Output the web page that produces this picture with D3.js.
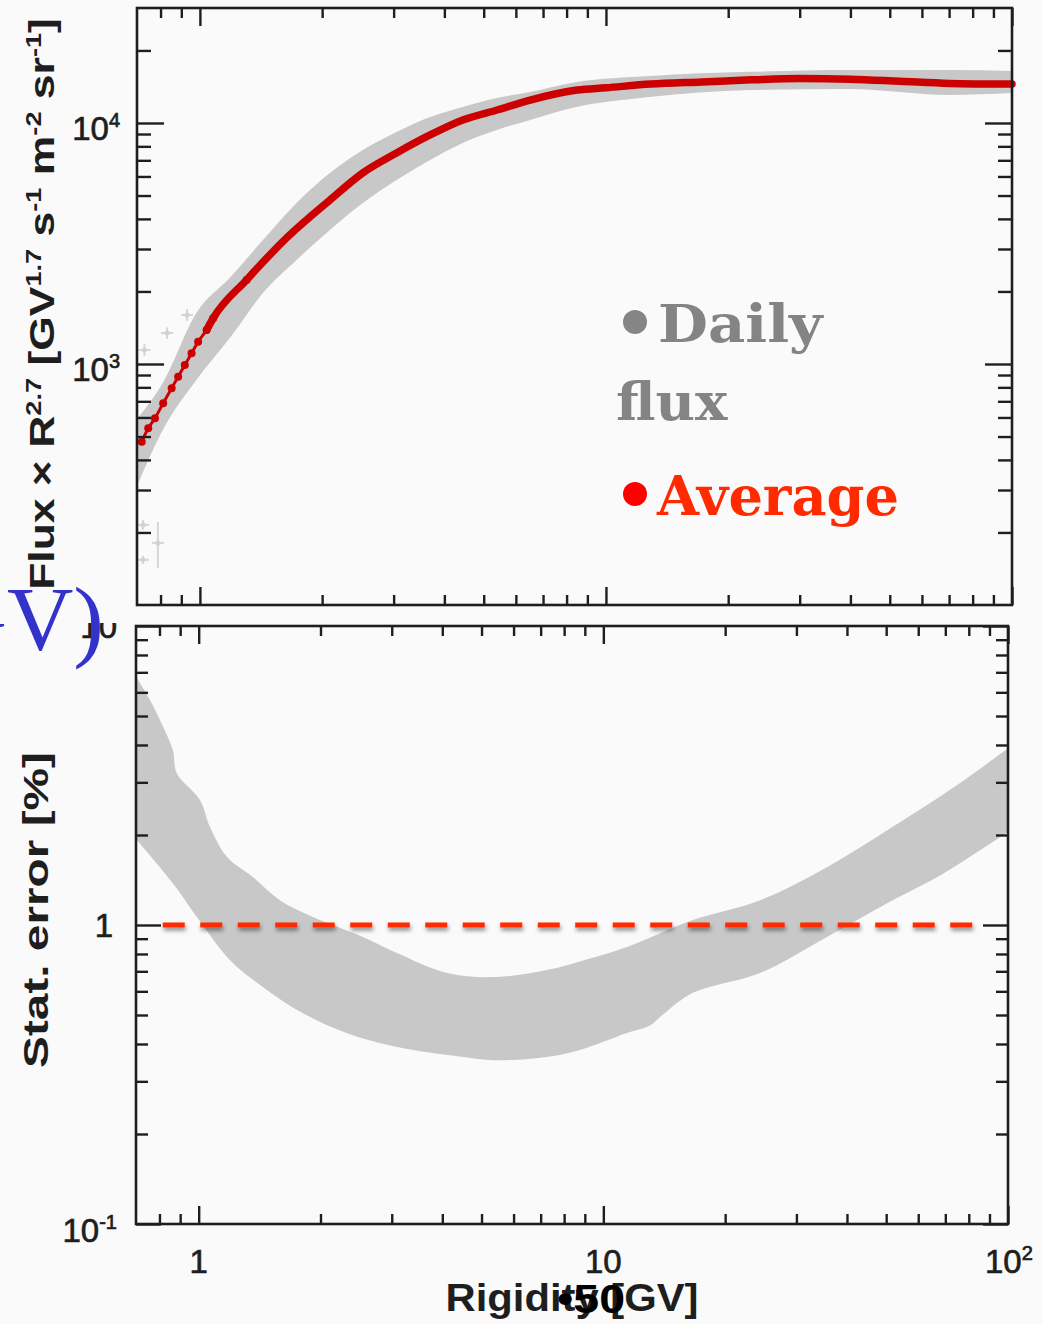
<!DOCTYPE html>
<html><head><meta charset="utf-8">
<script src="https://cdn.jsdelivr.net/npm/d3@7"></script>
<style>html,body{margin:0;padding:0;background:#fafafa;} svg{display:block;}</style>
</head><body><svg id="c" width="1042" height="1324"></svg>
<script>
// ---------------- DATA ----------------
// Top panel: daily flux band (gray) and average (red), Flux x R^2.7
const bandR      = [0.705, 0.81, 0.98, 1.19, 1.43, 1.73, 2.09, 2.52, 3.05, 3.69, 4.44, 5.38, 6.51, 8.46, 12.8, 22.6, 39.8, 70, 100];
const bandUpper  = [600, 834, 1629, 2296, 3270, 4656, 6200, 7727, 9180, 10590, 11650, 12700, 13450, 14780, 15670, 16300, 16600, 16600, 16440];
const bandLower  = [320, 532, 859, 1294, 1971, 2702, 3600, 4656, 5801, 7022, 8260, 9354, 10290, 11650, 12820, 13700, 13840, 13070, 13320];
const avgR    = [0.719,0.746,0.775,0.812,0.852,0.884,0.918,0.954,0.990,1.039,1.078,1.303,1.635,2.09,2.52,3.05,3.69,4.44,5.39,6.51,8.49,10.0,12.9,17.2,22.8,30.0,40.0,53.0,70.0,100];
const avgFlux = [476,541,596,687,794,886,990,1107,1238,1384,1548,2233,3335,4790,6210,7510,8918,10290,11320,12450,13700,14000,14500,14800,15100,15300,15200,14900,14600,14500];
// outlying daily points at low rigidity
const outR    = [0.73, 0.83, 0.93, 0.788, 0.724, 0.724];
const outFlux = [1143, 1345, 1596, 181, 215, 154];
const outLo   = [1080, 1270, 1510, 142, 205, 148];
const outHi   = [1210, 1420, 1690, 221, 225, 160];

// Bottom panel: statistical error band [%]
const errUpR = [0.704,0.758,0.802,0.863,0.883,1.007,1.066,1.174,1.36,1.587,1.915,2.546,3.09,4.11,5.46,7.26,8.75,11.44,16.65,24.4,35.7,51.9,76.0,100];
const errUp  = [6.70,5.66,4.85,3.85,3.22,2.62,2.13,1.69,1.447,1.21,1.064,0.912,0.806,0.691,0.670,0.707,0.755,0.844,1.039,1.21,1.56,2.13,2.98,3.9];
const errLoR = [0.704,0.863,0.99,1.194,1.44,1.75,2.32,3.09,4.5,5.46,7.26,8.75,11.44,13.0,14.0,16.65,24.4,35.7,51.9,69.5,100];
const errLo  = [1.92,1.38,1.064,0.764,0.620,0.520,0.435,0.391,0.362,0.353,0.362,0.382,0.435,0.46,0.50,0.593,0.691,0.912,1.21,1.49,2.05];
const refLineR = [0.815, 88];
const refLineV = [1, 1];

// Axis ticks and labels
const xMajor = [1, 10, 100];
const xMinor = [0.8,0.9,2,3,4,5,6,7,8,9,20,30,40,50,60,70,80,90];
const xLabels = [["1",""],["10",""],["10","2"]];
const topYMajor = [1000, 10000];
const topYMinor = [200,300,400,500,600,700,800,900,2000,3000,4000,5000,6000,7000,8000,9000,20000];
const topYLabels = [["10","3"],["10","4"]];
const botYMajor = [0.1, 1, 10];
const botYMinor = [0.2,0.3,0.4,0.5,0.6,0.7,0.8,0.9,2,3,4,5,6,7,8,9];
const botYLabels = [["10","-1"],["1",""],["10",""]];

// ---------------- DRAW ----------------
const svg = d3.select("#c");
svg.append("rect").attr("width",1042).attr("height",1324).attr("fill","#fafafa");
const defs = svg.append("defs");
const f = defs.append("filter").attr("id","sh").attr("filterUnits","userSpaceOnUse")
  .attr("x",0).attr("y",880).attr("width",1042).attr("height",100);
f.append("feDropShadow").attr("dx",1).attr("dy",3).attr("stdDeviation",2).attr("flood-color","#000").attr("flood-opacity",0.45);
defs.append("clipPath").attr("id","clipB").append("rect").attr("x",136).attr("y",626).attr("width",872).attr("height",598);
defs.append("clipPath").attr("id","clipT").append("rect").attr("x",137).attr("y",8).attr("width",875).attr("height",597);

const AX = "Liberation Sans, Arial, Helvetica, sans-serif";
const INK = "#1e1e1e";

function ticks(g, scale, orient, pos, vals, size) {
  const ax = orient==="bottom"? d3.axisBottom(scale): orient==="top"? d3.axisTop(scale): orient==="left"? d3.axisLeft(scale): d3.axisRight(scale);
  ax.tickValues(vals).tickSize(-size).tickFormat("");
  const gg = g.append("g").attr("transform", (orient==="bottom"||orient==="top") ? `translate(0,${pos})` : `translate(${pos},0)`).call(ax);
  gg.select(".domain").remove();
  gg.selectAll("line").attr("stroke",INK).attr("stroke-width",2.4);
}
function supLabel(g, x, y, anchor, main, sup, size) {
  const t = g.append("text").attr("x",x).attr("y",y).attr("text-anchor",anchor)
    .attr("font-family",AX).attr("font-size",size).attr("fill",INK)
    .attr("stroke",INK).attr("stroke-width",0.7);
  t.append("tspan").text(main);
  if (sup) t.append("tspan").attr("font-size",20).attr("dy",-13).text(sup);
  return t;
}
function fitText(t, tx, ty, rot, w) {
  const bw = t.node().getBBox().width;
  t.attr("transform", `translate(${tx},${ty}) rotate(${rot}) scale(${w/bw},1)`);
}

// ===== Bottom panel =====
const xB = d3.scaleLog().domain([0.7,100]).range([136,1008]);
const yB = d3.scaleLog().domain([0.1,10]).range([1224,626]);
const gB = svg.append("g");
const edge = d3.line().x(d=>xB(d[0])).y(d=>yB(d[1])).curve(d3.curveCatmullRom.alpha(0.5));
const upPath = edge(d3.zip(errUpR, errUp));
const loPath = edge(d3.zip(errLoR, errLo).reverse());
gB.append("path").attr("clip-path","url(#clipB)")
  .attr("d", upPath + "L" + loPath.slice(1) + "Z")
  .attr("fill","#c8c8c8");
gB.append("path")
  .attr("d", d3.line().x(d=>xB(d[0])).y(d=>yB(d[1]))(d3.zip(refLineR, refLineV)))
  .attr("stroke","#ff2a00").attr("stroke-width",5).attr("stroke-dasharray","22,15.5")
  .attr("fill","none").attr("filter","url(#sh)");
ticks(gB, xB, "bottom", 1224, xMajor, 18);
ticks(gB, xB, "bottom", 1224, xMinor, 10);
ticks(gB, xB, "top", 626, xMajor, 18);
ticks(gB, xB, "top", 626, xMinor, 10);
ticks(gB, yB, "left", 136, botYMajor, 25);
ticks(gB, yB, "left", 136, botYMinor, 12);
ticks(gB, yB, "right", 1008, botYMajor, 25);
ticks(gB, yB, "right", 1008, botYMinor, 12);
gB.append("rect").attr("x",136).attr("y",626).attr("width",872).attr("height",598)
  .attr("fill","none").attr("stroke",INK).attr("stroke-width",2.6);
botYMajor.forEach((v,i)=>{
  const [m,s] = botYLabels[i];
  supLabel(gB, s ? 117 : (m==="1"?113:117), yB(v) + (s?18:12), "end", m, s, 33);
});
xMajor.forEach((v,i)=>{
  const [m,s] = xLabels[i];
  if (s) supLabel(gB, xB(v)-23, 1273, "start", m, s, 33);
  else supLabel(gB, xB(v), 1273, "middle", m, s, 33);
});
const tB = gB.append("text").attr("text-anchor","middle").attr("font-family",AX)
  .attr("font-weight","bold").attr("font-size",36).attr("fill",INK).text("Stat. error [%]");
fitText(tB, 48, 910, -90, 316);
const tX = gB.append("text").attr("text-anchor","middle").attr("font-family",AX)
  .attr("font-weight","bold").attr("font-size",39).attr("fill",INK).text("Rigidity [GV]");
fitText(tX, 572, 1311, 0, 253);

// ===== Top panel =====
svg.append("rect").attr("x",0).attr("y",0).attr("width",1042).attr("height",623).attr("fill","#fafafa");
const xT = d3.scaleLog().domain([0.7,100]).range([137,1012]);
const yT = d3.scaleLog().domain([100,30000]).range([605,8]);
const gT = svg.append("g");
gT.append("path").attr("clip-path","url(#clipT)")
  .attr("d", d3.area().x(d=>xT(d[0])).y0(d=>yT(d[2])).y1(d=>yT(d[1])).curve(d3.curveMonotoneX)(d3.zip(bandR, bandUpper, bandLower)))
  .attr("fill","#c8c8c8");
// outliers
outR.forEach((r,i)=>{
  gT.append("line").attr("x1",xT(r)).attr("x2",xT(r)).attr("y1",yT(outLo[i])).attr("y2",yT(outHi[i]))
    .attr("stroke","#d6d6d6").attr("stroke-width",2);
  gT.append("line").attr("x1",xT(r)-6).attr("x2",xT(r)+6).attr("y1",yT(outFlux[i])).attr("y2",yT(outFlux[i]))
    .attr("stroke","#d6d6d6").attr("stroke-width",2);
  gT.append("circle").attr("cx",xT(r)).attr("cy",yT(outFlux[i])).attr("r",2.5).attr("fill","#d2d2d2");
});
const avg = d3.zip(avgR, avgFlux);
const lineT = d3.line().x(d=>xT(d[0])).y(d=>yT(d[1])).curve(d3.curveMonotoneX);
gT.append("path").attr("d", lineT(avg)).attr("fill","none").attr("stroke","#cc0000").attr("stroke-width",3);
gT.append("path").attr("d", lineT(avg.filter(d=>d[0]>=1.0))).attr("fill","none")
  .attr("stroke","#cc0000").attr("stroke-width",7.5).attr("stroke-linecap","round");
gT.selectAll("circle.avg").data(avg.filter(d=>d[0]<1.35)).enter().append("circle").attr("class","avg")
  .attr("cx",d=>xT(d[0])).attr("cy",d=>yT(d[1])).attr("r",4).attr("fill","#cc0000");

ticks(gT, xT, "bottom", 605, xMajor, 18);
ticks(gT, xT, "bottom", 605, xMinor, 10);
ticks(gT, xT, "top", 8, xMajor, 18);
ticks(gT, xT, "top", 8, xMinor, 10);
ticks(gT, yT, "left", 137, topYMajor, 27);
ticks(gT, yT, "left", 137, topYMinor, 14);
ticks(gT, yT, "right", 1012, topYMajor, 27);
ticks(gT, yT, "right", 1012, topYMinor, 14);
gT.append("rect").attr("x",137).attr("y",8).attr("width",875).attr("height",597)
  .attr("fill","none").attr("stroke",INK).attr("stroke-width",2.6);
topYMajor.forEach((v,i)=>{
  const [m,s] = topYLabels[i];
  supLabel(gT, 120, yT(v)+17, "end", m, s, 33);
});
const tT = gT.append("text").attr("text-anchor","middle").attr("font-family",AX)
  .attr("font-weight","bold").attr("font-size",36).attr("fill",INK);
const parts = [["Flux × R",0],["2.7",1],[" [GV",0],["1.7",1],[" s",0],["-1",1],[" m",0],["-2",1],[" sr",0],["-1",1],["]",0]];
let prevSup = 0;
parts.forEach(([s,sup])=>{
  const ts = tT.append("tspan").text(s);
  if (sup) ts.attr("font-size",22);
  const dy = (sup?-13:0) - (prevSup?-13:0);
  if (dy) ts.attr("dy",dy);
  prevSup = sup;
});
fitText(tT, 54, 304, -90, 572);

// Legend
const LEG = "DejaVu Serif, Liberation Serif, serif";
gT.append("circle").attr("cx",635).attr("cy",322).attr("r",12).attr("fill","#858585");
const l1 = gT.append("text").attr("font-family",LEG).attr("font-weight","bold").attr("font-size",53).attr("fill","#848484").text("Daily");
fitText(l1, 658, 342, 0, 167);
const l2 = gT.append("text").attr("font-family",LEG).attr("font-weight","bold").attr("font-size",53).attr("fill","#848484").text("flux");
fitText(l2, 616, 420, 0, 112);
gT.append("circle").attr("cx",635).attr("cy",494).attr("r",12).attr("fill","#ff0000");
const l3 = gT.append("text").attr("font-family",LEG).attr("font-weight","bold").attr("font-size",55).attr("fill","#ff2a00").text("Average");
fitText(l3, 657, 515, 0, 243);

// Overlays
svg.append("text").attr("x",104).attr("y",650).attr("text-anchor","end")
  .attr("font-family","Liberation Serif, Times New Roman, serif").attr("font-size",92)
  .attr("fill","#3333cc").text("GV)");
const o50 = svg.append("text").attr("font-family",AX).attr("font-weight","bold").attr("font-size",40)
  .attr("fill","#000").text("•50");
fitText(o50, 557, 1313, 0, 68);
</script></body></html>
